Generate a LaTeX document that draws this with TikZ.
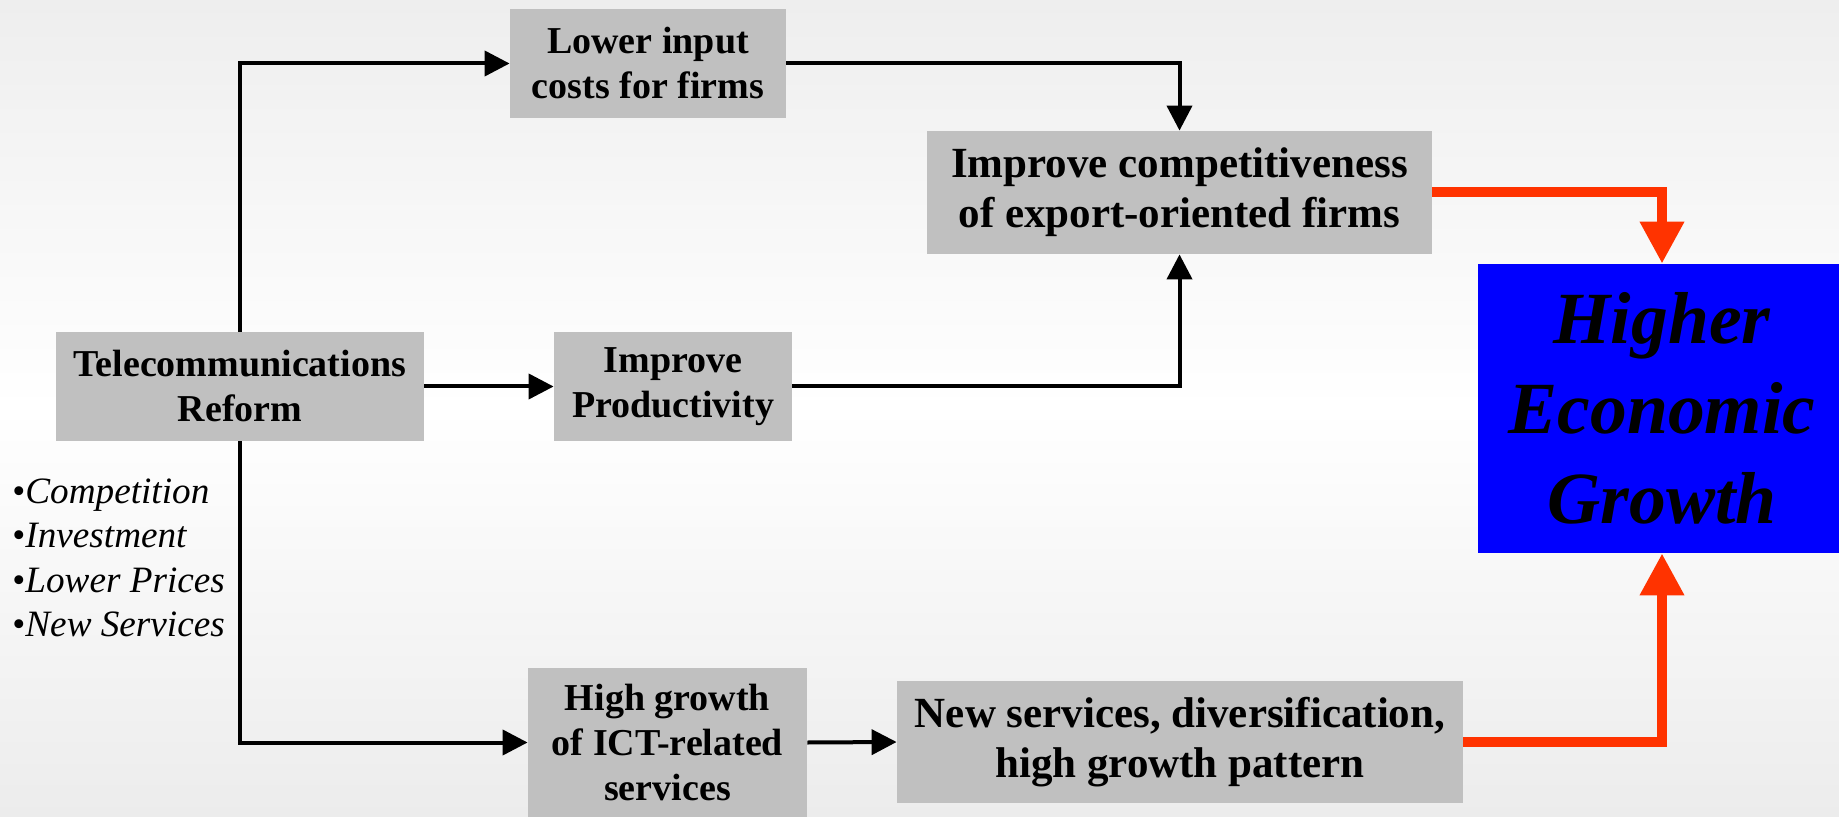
\documentclass[tikz,border=0pt]{standalone}
\usepackage{fontspec}
\setmainfont{Liberation Serif}
\usetikzlibrary{arrows.meta}
\definecolor{boxgray}{RGB}{192,192,192}
\definecolor{bgtop}{RGB}{238,238,238}
\definecolor{bgbot}{RGB}{236,236,236}
\definecolor{redarr}{RGB}{255,51,0}
\definecolor{hegblue}{RGB}{0,0,255}
\begin{document}
\begin{tikzpicture}[x=0.5pt,y=-0.5pt,
  box/.style={fill=boxgray, inner sep=0pt, align=center, font=\bfseries\fontsize{19}{22.5}\selectfont},
  bigbox/.style={box, font=\bfseries\fontsize{21.5}{25}\selectfont},
  bullet/.style={anchor=base west, inner sep=0pt, font=\fontsize{18.6}{22.5}\selectfont},
  arr/.style={draw=black, line width=2pt, -{Triangle[length=12.5pt,width=12.5pt]}},
  redarrow/.style={draw=redarr, line width=5pt, -{Triangle[length=21pt,width=21pt]}}]
\useasboundingbox (0,0) rectangle (1839,817);
\shade[top color=bgtop, bottom color=bgbot, middle color=white] (0,0) rectangle (1839,817);

\node[box, minimum width=138pt, minimum height=54.5pt] (lic) at (648,63.5) {Lower input\\costs for firms};
\node[bigbox, minimum width=252.5pt, minimum height=61.5pt] (comp) at (1179.5,192.5) {Improve competitiveness\\of export-oriented firms};
\node[box, minimum width=184pt, minimum height=54.5pt] (tel) at (240,386.5) {Telecommunications\\Reform};
\node[box, minimum width=119pt, minimum height=54.5pt] (prod) at (673,386.5) {Improve\\Productivity};
\node[fill=hegblue, inner sep=0pt, align=center, minimum width=184pt, minimum height=144.5pt,
      font=\bfseries\itshape\fontsize{36.8}{45}\selectfont] (heg) at (1662,408.5) {\raisebox{-1.5pt}{Higher}\\\raisebox{-1.5pt}{Economic}\\\raisebox{-1.5pt}{Growth}};
\node[box, minimum width=139.5pt, minimum height=74.5pt] (hg) at (667.5,742.5) {High growth\\of ICT-related\\services};
\node[bigbox, minimum width=283pt, minimum height=61pt] (ns) at (1180,742) {New services, diversification,\\high growth pattern};

\node[bullet] (b1) at (12,503) {•\textit{Competition}};
\node[bullet] (b2) at (12,547) {•\textit{Investment}};
\node[bullet] (b3) at (12,592) {•\textit{Lower Prices}};
\node[bullet] (b4) at (12,636) {•\textit{New Services}};

\draw[arr] (tel.north) |- (lic.west);
\draw[arr] (lic.east) -| (comp.north);
\draw[arr] (tel.east) -- (prod.west);
\draw[arr] (prod.east) -| (comp.south);
\draw[arr] (tel.south) |- (hg.west);
\draw[arr] (hg.east) -- (ns.west);
\draw[redarrow] (comp.east) -| (heg.north);
\draw[redarrow] (ns.east) -| (heg.south);
\end{tikzpicture}
\end{document}
